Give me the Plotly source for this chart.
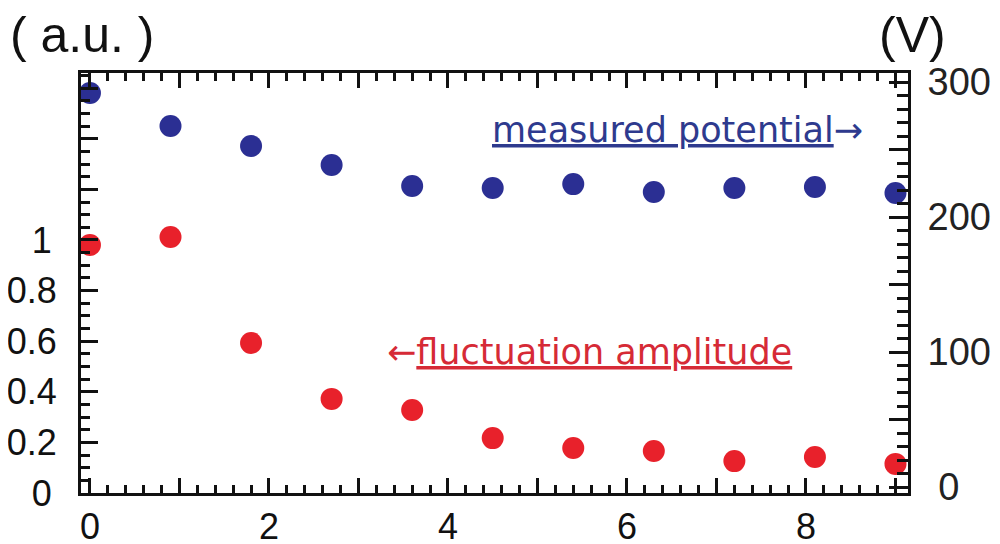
import plotly.graph_objects as go

# Data
x_vals = [0, 0.9, 1.8, 2.7, 3.6, 4.5, 5.4, 6.3, 7.2, 8.1, 9.0]
potential_V = [291.9, 267.4, 252.6, 238.5, 223.0, 221.5, 224.4, 218.5, 221.5, 222.2, 217.8]
amplitude_au = [0.980, 1.012, 0.593, 0.372, 0.328, 0.217, 0.178, 0.166, 0.126, 0.142, 0.115]

HID = "<span style='color:rgba(0,0,0,0)'>.</span>"
HID_S = "<span style='font-size:18px;color:rgba(0,0,0,0)'>.</span>"
x_ticks = [0, 1, 2, 3, 4, 5, 6, 7, 8, 9]
x_ticktext = ["0", "", "2", "", "4", "", "6", "", "8", ""]
left_ticks = [0, 0.2, 0.4, 0.6, 0.8, 1.0, 1.2, 1.4, 1.6]
left_ticktext = ["0" + HID_S, "0.2", "0.4", "0.6", "0.8", "1" + HID_S, "", "", ""]
right_ticks = [0, 50, 100, 150, 200, 250, 300]
right_ticktext = [HID + "0", "", "100", "", "200", "", "300"]

BLUE = "#2b2f93"
RED = "#e8212b"

fig = go.Figure()
fig.add_trace(go.Scatter(x=x_vals, y=amplitude_au, mode="markers",
                         marker=dict(size=22, color=RED), yaxis="y", cliponaxis=False,
                         showlegend=False))
fig.add_trace(go.Scatter(x=x_vals, y=potential_V, mode="markers",
                         marker=dict(size=22, color=BLUE), yaxis="y2", cliponaxis=False,
                         showlegend=False))

tickfont = dict(family="Liberation Sans, Arial, sans-serif", size=36, color="#111111")

fig.update_layout(
    width=992, height=536,
    margin=dict(l=73, r=92, t=65, b=51, autoexpand=False),
    paper_bgcolor="white", plot_bgcolor="white",
    xaxis=dict(range=[-0.1, 9.14], tickmode="array", tickvals=x_ticks, ticktext=x_ticktext,
               ticks="inside", ticklen=15, tickwidth=3, tickcolor="#111",
               minor=dict(dtick=0.2, tick0=0, ticks="inside", ticklen=8, tickwidth=3, tickcolor="#111"),
               showline=True, linewidth=3, linecolor="#111", mirror="ticks",
               showgrid=False, zeroline=False, tickfont=tickfont, ticklabelstandoff=0,
               automargin=False),
    yaxis=dict(range=[0, 1.66], tickmode="array", tickvals=left_ticks, ticktext=left_ticktext,
               ticks="inside", ticklen=17, tickwidth=3, tickcolor="#111",
               minor=dict(dtick=0.05, tick0=0, ticks="inside", ticklen=9, tickwidth=3, tickcolor="#111"),
               showline=True, linewidth=3, linecolor="#111",
               showgrid=False, zeroline=False, tickfont=tickfont, ticklabelstandoff=14,
               automargin=False),
    yaxis2=dict(range=[-4.4, 306.7], overlaying="y", side="right",
                tickmode="array", tickvals=right_ticks, ticktext=right_ticktext,
                ticks="inside", ticklen=19, tickwidth=3, tickcolor="#111",
                minor=dict(dtick=10, tick0=0, ticks="inside", ticklen=11, tickwidth=3, tickcolor="#111"),
                showline=True, linewidth=3, linecolor="#111",
                showgrid=False, zeroline=False,
                tickfont=dict(family="Liberation Sans, Arial, sans-serif", size=38, color="#222"),
                ticklabelstandoff=9, automargin=False),
    annotations=[
        dict(text="( a.u. )", xref="paper", yref="paper", x=0.001, y=1.09,
             xanchor="center", yanchor="middle", showarrow=False,
             font=dict(family="Liberation Sans, Arial, sans-serif", size=50, color="#111")),
        dict(text="(V)", xref="paper", yref="paper", x=1.005, y=1.09,
             xanchor="center", yanchor="middle", showarrow=False,
             font=dict(family="Liberation Sans, Arial, sans-serif", size=50, color="#111")),
        dict(text="<u>measured potential</u>\u2192", xref="paper", yref="paper",
             x=0.4946, y=0.864, xanchor="left", yanchor="middle", showarrow=False,
             font=dict(family="DejaVu Sans, sans-serif", size=35, color="#2e3a8e")),
        dict(text="\u2190<u>fluctuation amplitude</u>", xref="paper", yref="paper",
             x=0.3676, y=0.336, xanchor="left", yanchor="middle", showarrow=False,
             font=dict(family="DejaVu Sans, sans-serif", size=35, color="#d62a36")),
    ],
)

fig.write_html("out.html")
